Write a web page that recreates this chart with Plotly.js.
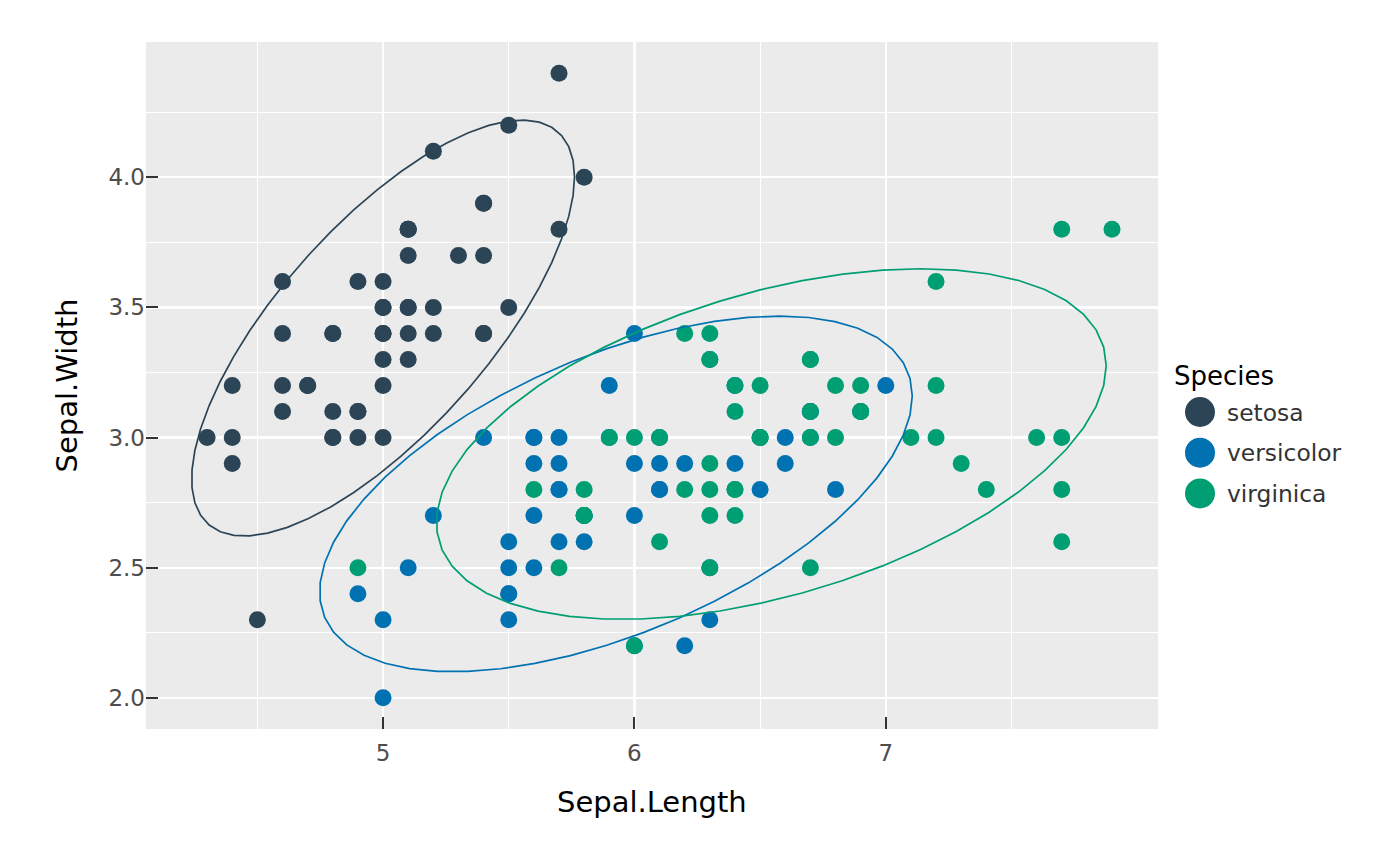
<!DOCTYPE html>
<html>
<head>
<meta charset="utf-8">
<script src="https://cdn.plot.ly/plotly-3.0.1.min.js"></script>
<style>html,body{margin:0;padding:0;background:#fff;}#chart{width:1400px;height:866px;}</style>
</head>
<body>
<div id="chart"></div>
<script>
// ---- data (iris) ----
const species = ['setosa', 'versicolor', 'virginica'];
const colors = ['#2c4556', '#0072b2', '#009e73'];

const setosaLength = [5.1,4.9,4.7,4.6,5.0,5.4,4.6,5.0,4.4,4.9,5.4,4.8,4.8,4.3,5.8,5.7,5.4,5.1,5.7,5.1,5.4,5.1,4.6,5.1,4.8,5.0,5.0,5.2,5.2,4.7,4.8,5.4,5.2,5.5,4.9,5.0,5.5,4.9,4.4,5.1,5.0,4.5,4.4,5.0,5.1,4.8,5.1,4.6,5.3,5.0];
const setosaWidth = [3.5,3.0,3.2,3.1,3.6,3.9,3.4,3.4,2.9,3.1,3.7,3.4,3.0,3.0,4.0,4.4,3.9,3.5,3.8,3.8,3.4,3.7,3.6,3.3,3.4,3.0,3.4,3.5,3.4,3.2,3.1,3.4,4.1,4.2,3.1,3.2,3.5,3.6,3.0,3.4,3.5,2.3,3.2,3.5,3.8,3.0,3.8,3.2,3.7,3.3];

const versicolorLength = [7.0,6.4,6.9,5.5,6.5,5.7,6.3,4.9,6.6,5.2,5.0,5.9,6.0,6.1,5.6,6.7,5.6,5.8,6.2,5.6,5.9,6.1,6.3,6.1,6.4,6.6,6.8,6.7,6.0,5.7,5.5,5.5,5.8,6.0,5.4,6.0,6.7,6.3,5.6,5.5,5.5,6.1,5.8,5.0,5.6,5.7,5.7,6.2,5.1,5.7];
const versicolorWidth = [3.2,3.2,3.1,2.3,2.8,2.8,3.3,2.4,2.9,2.7,2.0,3.0,2.2,2.9,2.9,3.1,3.0,2.7,2.2,2.5,3.2,2.8,2.5,2.8,2.9,3.0,2.8,3.0,2.9,2.6,2.4,2.4,2.7,2.7,3.0,3.4,3.1,2.3,3.0,2.5,2.6,3.0,2.6,2.3,2.7,3.0,2.9,2.9,2.5,2.8];

const virginicaLength = [6.3,5.8,7.1,6.3,6.5,7.6,4.9,7.3,6.7,7.2,6.5,6.4,6.8,5.7,5.8,6.4,6.5,7.7,7.7,6.0,6.9,5.6,7.7,6.3,6.7,7.2,6.2,6.1,6.4,7.2,7.4,7.9,6.4,6.3,6.1,7.7,6.3,6.4,6.0,6.9,6.7,6.9,5.8,6.8,6.7,6.7,6.3,6.5,6.2,5.9];
const virginicaWidth = [3.3,2.7,3.0,2.9,3.0,3.0,2.5,2.9,2.5,3.6,3.2,2.7,3.0,2.5,2.8,3.2,3.0,3.8,2.6,2.2,3.2,2.8,2.8,2.7,3.3,3.2,2.8,3.0,2.8,3.0,2.8,3.8,2.8,2.8,2.6,3.0,3.4,3.1,3.0,3.1,3.1,3.1,2.7,3.2,3.3,3.0,2.5,3.0,3.4,3.0];

const xTickVals = [5, 6, 7];
const yTickVals = [2.0, 2.5, 3.0, 3.5, 4.0];

const groups = [
  {x: setosaLength, y: setosaWidth},
  {x: versicolorLength, y: versicolorWidth},
  {x: virginicaLength, y: virginicaWidth}
];

// ---- stat_ellipse (type = "t", level = 0.95) : MASS::cov.trob ----
function sum(a){ let s = 0; for (const v of a) s += v; return s; }
function covTrob(x, y){
  const nu = 5, p = 2, maxit = 25, tol = 0.01, n = x.length;
  let w = new Array(n).fill(1);
  let lx = sum(x)/n, ly = sum(y)/n;
  let X, Y;
  for (let iter = 0; iter < maxit; iter++){
    const w0 = w.slice();
    X = x.map(v => v - lx); Y = y.map(v => v - ly);
    const sw = sum(w);
    let s11 = 0, s12 = 0, s22 = 0;
    for (let i = 0; i < n; i++){
      const f = w[i]/sw;
      s11 += f*X[i]*X[i]; s12 += f*X[i]*Y[i]; s22 += f*Y[i]*Y[i];
    }
    const det = s11*s22 - s12*s12;
    const i11 = s22/det, i12 = -s12/det, i22 = s11/det;
    w = X.map((xi, i) => (nu + p)/(nu + xi*xi*i11 + 2*xi*Y[i]*i12 + Y[i]*Y[i]*i22));
    const sw2 = sum(w);
    lx = 0; ly = 0;
    for (let i = 0; i < n; i++){ lx += w[i]*x[i]; ly += w[i]*y[i]; }
    lx /= sw2; ly /= sw2;
    let done = true;
    for (let i = 0; i < n; i++) if (Math.abs(w[i] - w0[i]) >= tol) { done = false; break; }
    if (done) break;
  }
  let c11 = 0, c12 = 0, c22 = 0;
  for (let i = 0; i < n; i++){
    c11 += w[i]*X[i]*X[i]; c12 += w[i]*X[i]*Y[i]; c22 += w[i]*Y[i]*Y[i];
  }
  return {center: [lx, ly], cov: [c11/n, c12/n, c22/n]};
}
function ellipse(x, y){
  const level = 0.95, segments = 51, n = x.length;
  const dfn = 2, dfd = n - 1;
  const qf = (dfd/2)*(Math.pow(1 - level, -2/dfd) - 1);
  const radius = Math.sqrt(dfn*qf);
  const t = covTrob(x, y);
  const a = Math.sqrt(t.cov[0]), b = t.cov[1]/a, c = Math.sqrt(t.cov[2] - b*b);
  const ex = [], ey = [];
  for (let k = 0; k <= segments; k++){
    const ang = k*2*Math.PI/segments;
    const ca = Math.cos(ang), sa = Math.sin(ang);
    ex.push(t.center[0] + radius*ca*a);
    ey.push(t.center[1] + radius*(ca*b + sa*c));
  }
  return {x: ex, y: ey};
}

const ellipses = groups.map(g => ellipse(g.x, g.y));

// ---- ranges (data + ellipses, 5% expansion) ----
let allX = [], allY = [];
groups.forEach((g, i) => { allX = allX.concat(g.x, ellipses[i].x); allY = allY.concat(g.y, ellipses[i].y); });
const xmin = Math.min(...allX), xmax = Math.max(...allX);
const ymin = Math.min(...allY), ymax = Math.max(...allY);
const xr = [xmin - 0.05*(xmax - xmin), xmax + 0.05*(xmax - xmin)];
const yr = [ymin - 0.05*(ymax - ymin), ymax + 0.05*(ymax - ymin)];

// ---- traces ----
const traces = [];
groups.forEach((g, i) => {
  traces.push({type: 'scatter', mode: 'markers', x: g.x, y: g.y, name: species[i],
    marker: {color: colors[i], size: 17, line: {width: 0}}, showlegend: false, cliponaxis: false});
});
ellipses.forEach((e, i) => {
  traces.push({type: 'scatter', mode: 'lines', x: e.x, y: e.y, name: species[i],
    line: {color: colors[i], width: 1.7}, showlegend: false});
});

// ---- layout geometry ----
const W = 1400, H = 866;
const M = {l: 146, r: 242, t: 42, b: 137};
const pw = W - M.l - M.r, ph = H - M.t - M.b;
const px2x = px => (px - M.l)/pw;
const px2y = py => (H - M.b - py)/ph;
const FONT = 'DejaVu Sans';

const shapes = [];
const annotations = [];
// legend
annotations.push({xref: 'paper', yref: 'paper', x: px2x(1172), y: px2y(376), xanchor: 'left', yanchor: 'middle',
  text: 'Species', showarrow: false, font: {family: FONT, size: 26, color: '#000000'}});
species.forEach((s, i) => {
  const cy = 412 + 40.7*i;
  shapes.push({type: 'circle', xref: 'paper', yref: 'paper', xsizemode: 'pixel', ysizemode: 'pixel',
    xanchor: px2x(1200), yanchor: px2y(cy), x0: -15, x1: 15, y0: -15, y1: 15,
    fillcolor: colors[i], line: {width: 0}});
  annotations.push({xref: 'paper', yref: 'paper', x: px2x(1225), y: px2y(cy + 0.5), xanchor: 'left', yanchor: 'middle',
    text: s, showarrow: false, font: {family: FONT, size: 23.4, color: '#333333'}});
});
// axis titles
annotations.push({xref: 'paper', yref: 'paper', x: 0.5, y: 0, yshift: -(802 - (H - M.b)), xanchor: 'center', yanchor: 'middle',
  text: 'Sepal.Length', showarrow: false, font: {family: FONT, size: 29, color: '#000000'}});
annotations.push({xref: 'paper', yref: 'paper', x: 0, xshift: -(M.l - 66), y: 0.5, xanchor: 'center', yanchor: 'middle',
  textangle: -90, text: 'Sepal.Width', showarrow: false, font: {family: FONT, size: 29, color: '#000000'}});

const layout = {
  width: W, height: H,
  margin: M,
  paper_bgcolor: '#ffffff',
  plot_bgcolor: '#ebebeb',
  showlegend: false,
  font: {family: FONT},
  xaxis: {
    range: xr, tickmode: 'array', tickvals: xTickVals, ticktext: xTickVals.map(v => String(v)),
    showgrid: true, gridcolor: '#ffffff', gridwidth: 2.2, zeroline: false, showline: false,
    ticks: 'inside', ticklen: 12, tickwidth: 2, tickcolor: '#333333', ticklabelstandoff: 8,
    tickfont: {family: FONT, size: 23, color: '#4d4d4d'},
    minor: {tickmode: 'array', tickvals: [4.5, 5.5, 6.5, 7.5], showgrid: true, gridcolor: '#ffffff', gridwidth: 1.1, ticks: ''},
    fixedrange: true
  },
  yaxis: {
    range: yr, tickmode: 'array', tickvals: yTickVals, ticktext: yTickVals.map(v => v.toFixed(1)),
    showgrid: true, gridcolor: '#ffffff', gridwidth: 2.2, zeroline: false, showline: false,
    ticks: 'inside', ticklen: 12, tickwidth: 2, tickcolor: '#333333',
    tickfont: {family: FONT, size: 23, color: '#4d4d4d'},
    minor: {tickmode: 'array', tickvals: [2.25, 2.75, 3.25, 3.75, 4.25], showgrid: true, gridcolor: '#ffffff', gridwidth: 1.1, ticks: ''},
    fixedrange: true
  },
  shapes: shapes,
  annotations: annotations
};

Plotly.newPlot('chart', traces, layout, {displayModeBar: false, staticPlot: true});
</script>
</body>
</html>
